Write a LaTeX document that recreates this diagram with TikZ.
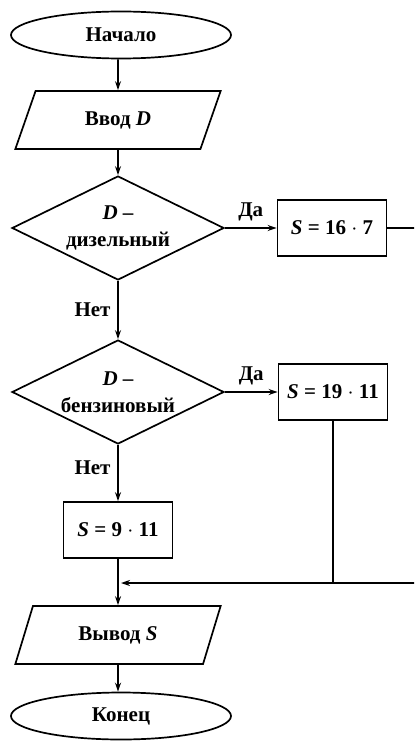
\documentclass[tikz,border=0pt]{standalone}
\usepackage{fontspec}
\setmainfont{Liberation Serif}
\usetikzlibrary{shapes.geometric,arrows.meta}
\begin{document}
\begin{tikzpicture}[x=0.5pt,y=-0.5pt,line width=0.85pt,
  >={Stealth[length=4.5pt,width=3pt]},
  every node/.style={font=\fontsize{10.5}{13.5}\selectfont\bfseries},
  term/.style={draw,ellipse,minimum width=110pt,minimum height=23.5pt,inner sep=0pt},
  io/.style={draw,trapezium,trapezium left angle=65,trapezium right angle=115,
    trapezium stretches=true,minimum width=103pt,minimum height=29pt,inner sep=0pt},
  cond/.style={draw,diamond,aspect=2,minimum width=106pt,minimum height=52pt,
    inner sep=0pt,align=center},
  act/.style={draw,rectangle,minimum width=54.5pt,minimum height=28pt,inner sep=0pt}]
\useasboundingbox (0,0) rectangle (414,743);
\clip (0,0) rectangle (414,743);
% main column
\node[term] (start) at (121,35) {Начало};
\node[io] (inp) at (118,120) {Ввод \textit{D}};
\node[cond] (dz) at (118,228) {\textit{D} –\\дизельный};
\node[cond] (bz) at (118,392) {\textit{D} –\\бензиновый};
\node[act] (s3) at (118,530) {\textit{S} = 9 $\cdot$ 11};
\node[io] (out) at (118,635) {Вывод \textit{S}};
\node[term] (stop) at (121,716) {Конец};
% right branch
\node[act] (s1) at (332,228) {\textit{S} = 16 $\cdot$ 7};
\node[act] (s2) at (333,392) {\textit{S} = 19 $\cdot$ 11};
\coordinate (j) at (118,583);
\coordinate (r1) at (440,228);
\coordinate (r2) at (440,583);
\draw[->] (start.south -| inp) -- (inp);
\draw[->] (inp) -- (dz);
\draw[->] (dz) -- node[above] {Да} (s1);
\draw[->] (dz) -- node[left] {Нет} (bz);
\draw[->] (bz) -- node[above] {Да} (s2);
\draw[->] (bz) -- node[left,pos=0.4] {Нет} (s3);
\draw[->] (s3) -- (out);
\draw[->] (out) -- (stop.north -| out);
\draw[->,shorten >=1.5pt] (s1) -- (r1) -- (r2) -- (j);
\draw (s2) -- (s2 |- j);
\end{tikzpicture}
\end{document}
